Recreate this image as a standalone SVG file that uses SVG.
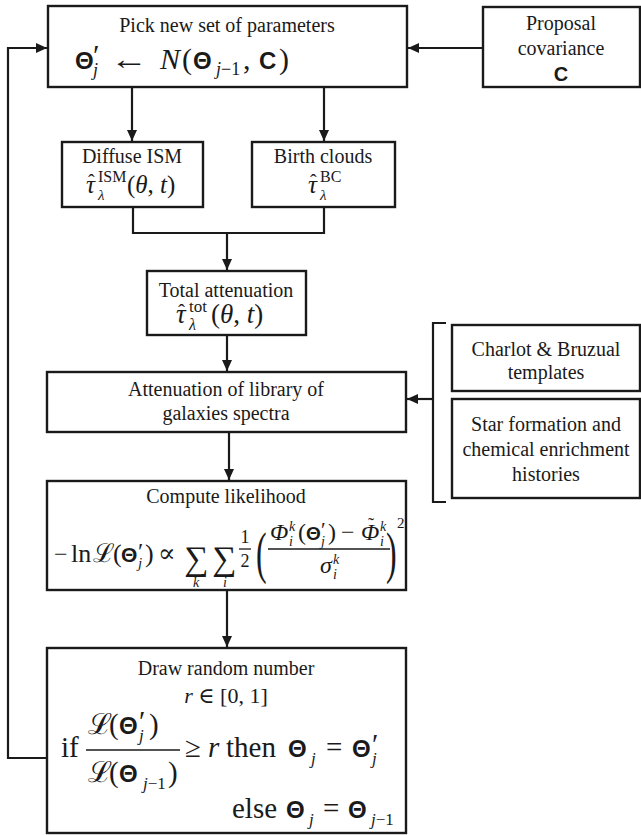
<svg xmlns="http://www.w3.org/2000/svg" width="641" height="835" viewBox="0 0 641 835">
<defs>
<marker id="ah" markerUnits="userSpaceOnUse" markerWidth="11" markerHeight="10" refX="11" refY="5" orient="auto">
<path d="M0,0 L11,5 L0,10 z" fill="#1a1a1a"/>
</marker>
<style>
.bx{fill:#fff;stroke:#1a1a1a;stroke-width:2.4}
.ln{fill:none;stroke:#1a1a1a;stroke-width:2.2}
.t{font-family:"Liberation Serif","DejaVu Serif",serif;font-size:20px;fill:#1a1a1a;text-anchor:middle}
.m{font-family:"Liberation Serif","DejaVu Serif",serif;fill:#1a1a1a}
.i{font-style:italic}
.bs{font-family:"Liberation Sans","DejaVu Sans",sans-serif;font-weight:bold}
.fb{stroke:#1a1a1a;stroke-width:1.3}
</style>
</defs>
<rect width="641" height="835" fill="#fff"/>

<g id="connectors">
<line class="ln" x1="483" y1="48" x2="408" y2="48" marker-end="url(#ah)"/>
<polyline class="ln" points="47,758 8,758 8,48 47,48" marker-end="url(#ah)"/>
<line class="ln" x1="132" y1="88" x2="132" y2="141" marker-end="url(#ah)"/>
<line class="ln" x1="324" y1="88" x2="324" y2="141" marker-end="url(#ah)"/>
<polyline class="ln" points="133,207 133,233 324,233 324,207"/>
<line class="ln" x1="227" y1="233" x2="227" y2="270" marker-end="url(#ah)"/>
<line class="ln" x1="227" y1="335" x2="227" y2="371" marker-end="url(#ah)"/>
<line class="ln" x1="433" y1="399" x2="407" y2="399" marker-end="url(#ah)"/>
<path class="ln" d="M446,323 H433 V502 H446"/>
<line class="ln" x1="229" y1="432" x2="229" y2="480" marker-end="url(#ah)"/>
<line class="ln" x1="227" y1="590" x2="227" y2="647" marker-end="url(#ah)"/>
</g>

<g id="pick">
<rect class="bx" x="48" y="6" width="359" height="81"/>
<text class="t" x="227" y="32">Pick new set of parameters</text>
<text class="m" font-size="30"><tspan class="bs" font-size="24" x="75" y="69">Θ</tspan><tspan font-size="30" x="93" y="65">′</tspan><tspan class="i" font-size="18" x="93" y="76">j</tspan><tspan x="110" y="69" textLength="38" lengthAdjust="spacingAndGlyphs">←</tspan><tspan class="i" x="160" y="69">N</tspan><tspan x="182" y="69">(</tspan><tspan class="bs" font-size="24" x="193" y="69">Θ</tspan><tspan class="i" font-size="18" x="216" y="75">j</tspan><tspan font-size="18">−1</tspan><tspan x="243" y="69">,</tspan><tspan class="bs" font-size="24" x="259" y="69">C</tspan><tspan x="279" y="69">)</tspan></text>
</g>

<g id="proposal">
<rect class="bx" x="483" y="7" width="157" height="80"/>
<text class="t" x="561" y="30">Proposal</text>
<text class="t" x="561" y="55">covariance</text>
<text class="t bs" x="561" y="81">C</text>
</g>

<g id="diffuse">
<rect class="bx" x="62" y="142" width="141" height="65"/>
<text class="t" x="132" y="163">Diffuse ISM</text>
<text class="m" font-size="25"><tspan class="i" x="86" y="193">τ</tspan><tspan font-size="20" x="88" y="189">ˆ</tspan><tspan font-size="16" x="98" y="182">ISM</tspan><tspan class="i" font-size="15" x="98" y="200">λ</tspan><tspan x="127" y="193">(</tspan><tspan class="i">θ</tspan>, <tspan class="i">t</tspan>)</text>
</g>

<g id="birth">
<rect class="bx" x="252" y="142" width="143" height="65"/>
<text class="t" x="323" y="163">Birth clouds</text>
<text class="m" font-size="25"><tspan class="i" x="308" y="193">τ</tspan><tspan font-size="20" x="310" y="189">ˆ</tspan><tspan font-size="16" x="320" y="182">BC</tspan><tspan class="i" font-size="15" x="320" y="200">λ</tspan></text>
</g>

<g id="total">
<rect class="bx" x="147" y="271" width="159" height="64"/>
<text class="t" x="226" y="297">Total attenuation</text>
<text class="m" font-size="27"><tspan class="i" x="176" y="323">τ</tspan><tspan font-size="21" x="178" y="319">ˆ</tspan><tspan font-size="17" x="189" y="312">tot</tspan><tspan class="i" font-size="16" x="189" y="330">λ</tspan><tspan x="211" y="323">(</tspan><tspan class="i">θ</tspan>, <tspan class="i">t</tspan>)</text>
</g>

<g id="attenuation">
<rect class="bx" x="47" y="372" width="359" height="60"/>
<text class="t" x="226" y="396">Attenuation of library of</text>
<text class="t" x="226" y="420">galaxies spectra</text>
</g>

<g id="charlot">
<rect class="bx" x="452" y="325" width="188" height="66"/>
<text class="t" x="546" y="356">Charlot &amp; Bruzual</text>
<text class="t" x="546" y="379">templates</text>
</g>

<g id="starformation">
<rect class="bx" x="452" y="399" width="188" height="99"/>
<text class="t" x="546" y="431">Star formation and</text>
<text class="t" x="546" y="456">chemical enrichment</text>
<text class="t" x="546" y="481">histories</text>
</g>

<g id="likelihood">
<rect class="bx" x="47" y="481" width="359" height="109"/>
<text class="t" x="226" y="503">Compute likelihood</text>
<text class="m" font-size="26"><tspan font-size="24" x="54" y="562">−</tspan><tspan x="71" y="562">ln</tspan><tspan x="93" y="562">ℒ</tspan><tspan x="113" y="562">(</tspan><tspan class="bs" font-size="21" x="121" y="562">Θ</tspan><tspan font-size="24" x="138" y="559">′</tspan><tspan class="i" font-size="15" x="138" y="568">j</tspan><tspan x="145" y="562">)</tspan><tspan x="158" y="562">∝</tspan></text>
<text class="m" font-size="34"><tspan x="184" y="570">∑</tspan><tspan x="212" y="570">∑</tspan></text>
<text class="m i" font-size="14" text-anchor="middle"><tspan x="196" y="587">k</tspan><tspan x="225" y="587">i</tspan></text>
<text class="m" font-size="18" text-anchor="middle"><tspan x="245" y="543">1</tspan><tspan x="245" y="567">2</tspan></text>
<line class="fb" x1="239" y1="549" x2="251" y2="549"/>
<text class="m" transform="translate(256,572) scale(0.55,1)" font-size="58">(</text>
<text class="m" font-size="24"><tspan class="i" x="270" y="540">Φ</tspan><tspan class="i" font-size="14" x="289" y="531">k</tspan><tspan class="i" font-size="14" x="289" y="546">i</tspan><tspan x="298" y="540">(</tspan><tspan class="bs" font-size="19" x="306" y="540">Θ</tspan><tspan font-size="21" x="321" y="537">′</tspan><tspan class="i" font-size="14" x="321" y="546">j</tspan><tspan x="328" y="540">)</tspan><tspan x="341" y="540">−</tspan><tspan class="i" x="361" y="540">Φ</tspan><tspan font-size="18" x="368" y="531">˜</tspan><tspan class="i" font-size="14" x="380" y="531">k</tspan><tspan class="i" font-size="14" x="380" y="546">i</tspan></text>
<line class="fb" x1="268" y1="549" x2="390" y2="549"/>
<text class="m i" font-size="24"><tspan x="320" y="573">σ</tspan><tspan font-size="14" x="333" y="564">k</tspan><tspan font-size="14" x="333" y="579">i</tspan></text>
<text class="m" transform="translate(386,572) scale(0.55,1)" font-size="58">)</text>
<text class="m" x="397" y="528" font-size="15">2</text>
</g>

<g id="draw">
<rect class="bx" x="47" y="648" width="359" height="185"/>
<text class="t" x="226" y="675">Draw random number</text>
<text class="m" x="226" y="703" font-size="22" text-anchor="middle"><tspan class="i">r</tspan> ∈ [0, 1]</text>
<text class="m" x="61" y="757" font-size="29">if</text>
<text class="m" font-size="29"><tspan x="88" y="734">ℒ</tspan><tspan x="109" y="734">(</tspan><tspan class="bs" font-size="24" x="119" y="734">Θ</tspan><tspan font-size="29" x="139" y="731">′</tspan><tspan class="i" font-size="17" x="139" y="741">j</tspan><tspan x="149" y="734">)</tspan></text>
<line class="fb" x1="86" y1="750" x2="180" y2="750"/>
<text class="m" font-size="29"><tspan x="88" y="782">ℒ</tspan><tspan x="109" y="782">(</tspan><tspan class="bs" font-size="24" x="119" y="782">Θ</tspan><tspan class="i" font-size="17" x="143" y="789">j</tspan><tspan font-size="17">−1</tspan><tspan x="168" y="782">)</tspan></text>
<text class="m" font-size="29"><tspan x="185" y="757">≥</tspan><tspan class="i" x="208" y="757">r</tspan><tspan x="226" y="757">then</tspan><tspan class="bs" font-size="24" x="288" y="757">Θ</tspan><tspan class="i" font-size="17" x="311" y="764">j</tspan><tspan x="326" y="757">=</tspan><tspan class="bs" font-size="24" x="352" y="757">Θ</tspan><tspan font-size="29" x="372" y="754">′</tspan><tspan class="i" font-size="17" x="372" y="764">j</tspan></text>
<text class="m" font-size="29"><tspan x="232" y="818">else</tspan><tspan class="bs" font-size="24" x="286" y="818">Θ</tspan><tspan class="i" font-size="17" x="309" y="825">j</tspan><tspan x="323" y="818">=</tspan><tspan class="bs" font-size="24" x="348" y="818">Θ</tspan><tspan class="i" font-size="17" x="371" y="825">j</tspan><tspan font-size="17">−1</tspan></text>
</g>
</svg>
